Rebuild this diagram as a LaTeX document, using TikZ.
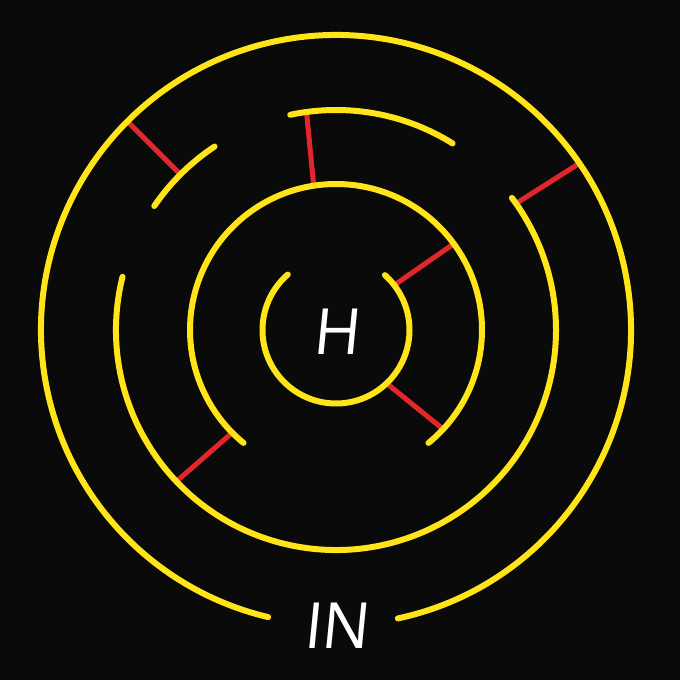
\documentclass[tikz,border=0pt]{standalone}
\usepackage{fontspec}
\newfontfamily\lblfont[FakeSlant=0.1]{Open Sans}
\definecolor{bg}{RGB}{10,10,10}
\definecolor{mazeyellow}{RGB}{255,228,25}
\definecolor{mazered}{RGB}{226,38,44}
\begin{document}
\begin{tikzpicture}[x=1bp,y=1bp,
  wall/.style={draw=mazeyellow, line width=6bp, line cap=round},
  bar/.style={draw=mazered, line width=5bp},
  lbl/.style={text=white, font=\lblfont\fontsize{64}{64}\selectfont, inner sep=0pt}]
\fill[bg] (0,0) rectangle (680,680);
\useasboundingbox (0,0) rectangle (680,680);
\coordinate (C) at (336,350);
% red bars
\draw[bar] ([shift={(135:220)}]C) -- ([shift={(135:295)}]C);
\draw[bar] ([shift={(97.7:220)}]C) -- ([shift={(98.8:146)}]C);
\draw[bar] ([shift={(34.4:295)}]C) -- ([shift={(35.1:220)}]C);
\draw[bar] ([shift={(36.2:146)}]C) -- ([shift={(37.6:73.5)}]C);
\draw[bar] ([shift={(-46.5:73.5)}]C) -- ([shift={(-42.8:146)}]C);
\draw[bar] ([shift={(224.7:146)}]C) -- ([shift={(223.5:220)}]C);
% outer ring
\draw[wall] ([shift={(-77.9:295)}]C) arc[start angle=-77.9, end angle=256.7, radius=295];
% ring 3
\draw[wall] ([shift={(58:220)}]C) arc[start angle=58, end angle=102, radius=220];
\draw[wall] ([shift={(123.5:220)}]C) arc[start angle=123.5, end angle=145.7, radius=220];
\draw[wall] ([shift={(166:220)}]C) arc[start angle=166, end angle=396.9, radius=220];
% ring 2
\draw[wall] ([shift={(-50.7:146)}]C) arc[start angle=-50.7, end angle=230.7, radius=146];
% inner ring
\draw[wall] ([shift={(131:73.5)}]C) arc[start angle=131, end angle=408.3, radius=73.5];
% labels
\node[lbl] (home) at (336,348) {H};
\node[lbl] (entry) at (336,54) {IN};
\end{tikzpicture}
\end{document}
